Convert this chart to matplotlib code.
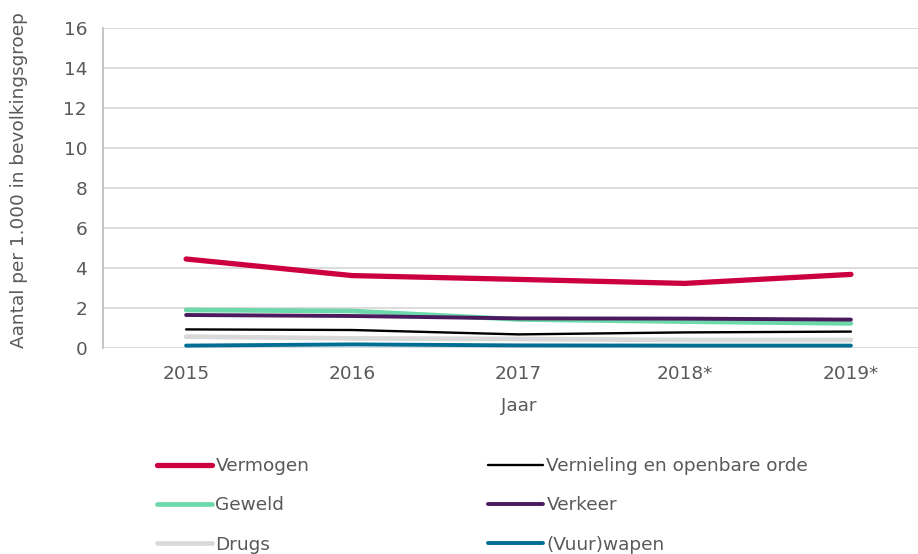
import matplotlib
matplotlib.use("Agg")
import matplotlib.pyplot as plt

years = ["2015", "2016", "2017", "2018*", "2019*"]

vermogen = [4.45, 3.62, 3.43, 3.23, 3.68]
vernieling = [0.93, 0.90, 0.68, 0.78, 0.82]
geweld = [1.90, 1.85, 1.43, 1.32, 1.23]
verkeer = [1.65, 1.60, 1.48, 1.47, 1.42]
drugs = [0.57, 0.48, 0.45, 0.40, 0.40]
vuurwapen = [0.12, 0.18, 0.13, 0.12, 0.12]

yticks = [0, 2, 4, 6, 8, 10, 12, 14, 16]

text_col = "#595959"
grid_col = "#d9d9d9"
fs = 13.3

plt.rcParams["font.family"] = ["DejaVu Sans"]

fig = plt.figure(figsize=(9.18, 5.54), dpi=100)
W, H = 918, 554
left, right, top, bottom = 103, 934, 28, 348
ax = fig.add_axes([left / W, 1 - bottom / H, (right - left) / W, (bottom - top) / H])

x = list(range(len(years)))
series = [
    ("Vermogen", vermogen, "#cc0040", 3.8, 5),
    ("Vernieling en openbare orde", vernieling, "#000000", 1.7, 5),
    ("Geweld", geweld, "#6dd9ab", 3.4, 4),
    ("Verkeer", verkeer, "#4b1a5e", 2.8, 6),
    ("Drugs", drugs, "#d9d9d9", 3.4, 3),
    ("(Vuur)wapen", vuurwapen, "#006d94", 2.8, 7),
]
handles = {}
for name, vals, col, lw, z in series:
    (h,) = ax.plot(x, vals, color=col, lw=lw, solid_capstyle="round", zorder=z, label=name)
    handles[name] = h

ax.set_xlim(-0.5, len(years) - 0.5)
ax.set_ylim(0, 16)
ax.set_yticks(yticks)
ax.set_xticks(x)
ax.set_xticklabels(years)
ax.grid(axis="y", color=grid_col, lw=1.3, zorder=0)
ax.set_axisbelow(True)
for s in ["top", "right", "bottom"]:
    ax.spines[s].set_visible(False)
ax.spines["left"].set_color("#bfbfbf")
ax.spines["left"].set_linewidth(1.3)
ax.tick_params(axis="both", length=0, labelsize=fs, labelcolor=text_col)
ax.tick_params(axis="y", pad=11.5)
ax.tick_params(axis="x", pad=12)

ax.set_xlabel("Jaar", fontsize=fs, color=text_col, labelpad=10)
fig.text(19 / W, 1 - 180 / H, "Aantal per 1.000 in bevolkingsgroep", rotation=90,
         ha="center", va="center", fontsize=fs, color=text_col)

columns = [
    (["Vermogen", "Geweld", "Drugs"], 157),
    (["Vernieling en openbare orde", "Verkeer", "(Vuur)wapen"], 488),
]
for names, xpos in columns:
    fig.legend([handles[n] for n in names], names, ncol=1, loc="upper left",
               bbox_to_anchor=(xpos / W, 1 - 457 / H), frameon=False, borderpad=0,
               borderaxespad=0, fontsize=fs, labelcolor=text_col, handlelength=3.0,
               handletextpad=0.16, labelspacing=1.16)

fig.savefig("out.png", dpi=100)
